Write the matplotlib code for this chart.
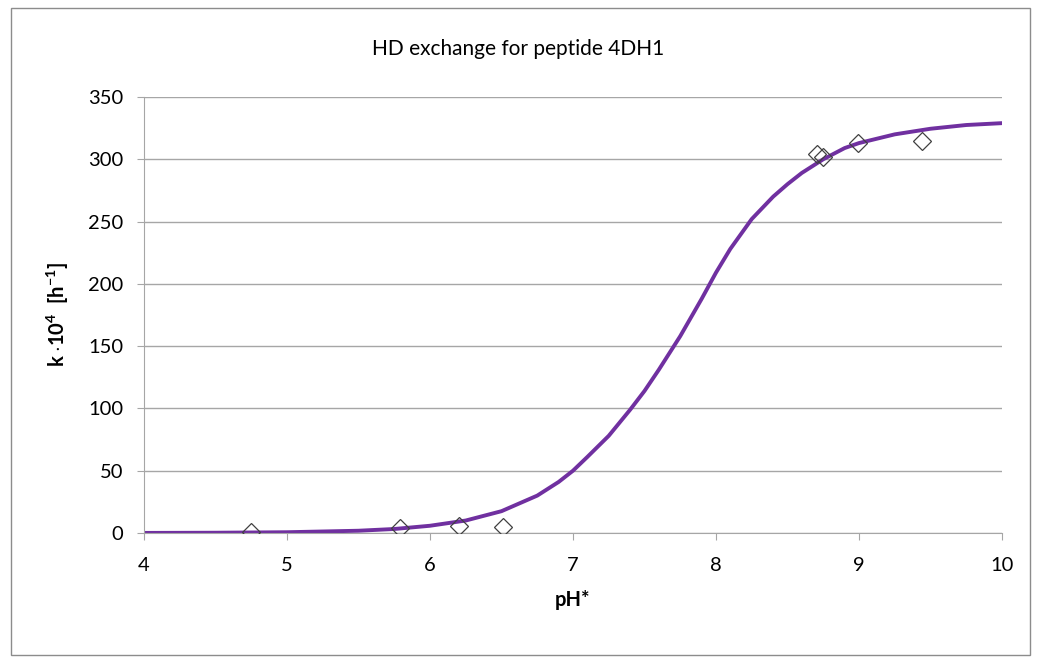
import numpy as np
import matplotlib
matplotlib.use('Agg')
import matplotlib.pyplot as plt
from matplotlib.patches import Rectangle

plt.rcParams['font.family'] = ['Lato', 'DejaVu Sans']
plt.rcParams['mathtext.fontset'] = 'custom'
plt.rcParams['mathtext.rm'] = 'Lato'
plt.rcParams['mathtext.bf'] = 'Lato:bold'

# measured points
ph_meas = [4.75, 5.79, 6.20, 6.51, 8.71, 8.75, 8.99, 9.44]
k_meas = [1, 4, 6, 5, 304, 302, 313, 315]

# fitted curve
ph_fit = [4.0, 4.5, 5.0, 5.5, 5.75, 6.0, 6.25, 6.5, 6.75, 6.9, 7.0, 7.1, 7.25,
          7.4, 7.5, 7.6, 7.75, 7.9, 8.0, 8.1, 8.25, 8.4, 8.5, 8.6, 8.75, 8.9,
          9.0, 9.25, 9.5, 9.75, 10.0]
k_fit = [0.05, 0.2, 0.6, 1.8, 3.2, 5.8, 10, 17.5, 30, 41, 50, 61, 78,
         99, 114, 131, 158, 188, 209, 228, 252, 270, 280, 289, 300, 309,
         313, 320, 324.5, 327.5, 329]

purple = '#7030a0'
grid_grey = '#a6a6a6'

fig = plt.figure(figsize=(10.37, 6.58), dpi=100)
fig.patches.append(Rectangle((0.011, 0.005), 0.982, 0.983, transform=fig.transFigure,
                             fill=False, edgecolor='#8c8c8c', linewidth=1))
ax = fig.add_axes([0.1389, 0.19, 0.8273, 0.6626])

ax.plot(ph_fit, k_fit, color=purple, linewidth=2.8, solid_joinstyle='round',
        solid_capstyle='round', zorder=2)
ax.plot(ph_meas, k_meas, linestyle='none', marker='D', markersize=9,
        markerfacecolor='none', markeredgecolor='#404040', markeredgewidth=0.9, zorder=3)

ax.set_xlim(4, 10)
ax.set_ylim(0, 350)
ax.set_xticks(range(4, 11))
ax.set_yticks(range(0, 351, 50))
ax.grid(axis='y', color=grid_grey, linewidth=1)
ax.set_axisbelow(True)

for s in ['top', 'right']:
    ax.spines[s].set_visible(False)
for s in ['left', 'bottom']:
    ax.spines[s].set_color(grid_grey)
ax.tick_params(axis='both', colors=grid_grey, labelcolor='black', labelsize=14.5,
               length=5, direction='out')
ax.tick_params(axis='x', pad=12)
ax.tick_params(axis='y', pad=10)

ax.set_xlabel('pH*', fontsize=14.5, fontweight='bold', labelpad=12)
ax.set_ylabel(r'k $\cdot$10$^\mathbf{4}$  [h$^\mathbf{-1}$]', fontsize=14.5,
              fontweight='bold', labelpad=12)
fig.text(0.5, 0.925, 'HD exchange for peptide 4DH1', ha='center', va='center', fontsize=15)

plt.savefig('out.png', dpi=100)
